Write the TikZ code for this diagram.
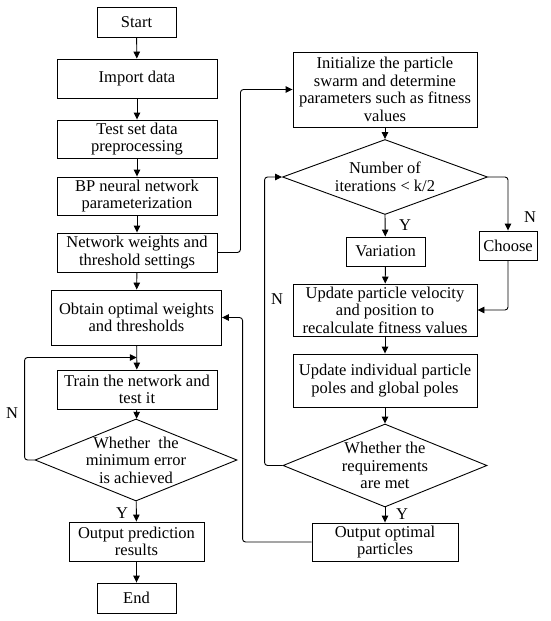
\documentclass[tikz,border=0pt]{standalone}
\usepackage{fontspec}
\setmainfont{Liberation Serif}
\usetikzlibrary{shapes.geometric,arrows.meta,calc}
\begin{document}
\begin{tikzpicture}[x=1pt,y=-1pt,
  every node/.style={font=\fontsize{16.5}{17.6}\selectfont},
  box/.style={draw,line width=0.9pt,rectangle,align=center,inner sep=0pt},
  dia/.style={draw,line width=0.9pt,diamond,inner sep=0pt},
  arr/.style={line width=0.9pt,-{Triangle[length=7pt,width=6.5pt]}},
  ln/.style={line width=0.9pt},
  lbl/.style={inner sep=0pt}]
\useasboundingbox (0,0) rectangle (550,621);
% left column
\node[box,minimum width=79pt,minimum height=30pt] (start) at (136.5,22) {Start};
\node[box,minimum width=160pt,minimum height=39pt] (import) at (137,78.5) {Import data};
\node[box,minimum width=160pt,minimum height=38pt] (test) at (137,139) {Test set data\\preprocessing};
\node[box,minimum width=160pt,minimum height=38pt] (bp) at (137,196) {BP neural network\\parameterization};
\node[box,minimum width=160pt,minimum height=39pt] (net) at (137,252.5) {Network weights and\\threshold settings};
\node[box,minimum width=170pt,minimum height=55pt] (obtain) at (136.5,317.5) {Obtain optimal weights\\and thresholds};
\node[box,minimum width=160pt,minimum height=39pt] (train) at (137,389.5) {Train the network and\\test it};
\node[dia,minimum width=202pt,minimum height=82pt,label={[align=center,lbl]center:Whether\ \ the\\minimum error\\is achieved}] (d1) at (136,460) {};
\node[box,minimum width=135pt,minimum height=39pt] (outpred) at (136.5,541.5) {Output prediction\\results};
\node[box,minimum width=79pt,minimum height=30pt] (end) at (136.5,598) {End};
% right column
\node[box,minimum width=184pt,minimum height=75pt] (init) at (385,89.5) {Initialize the particle\\swarm and determine\\parameters such as fitness\\values};
\node[dia,minimum width=205pt,minimum height=75pt,label={[align=center,lbl]center:Number of\\iterations < k/2}] (d2) at (385,177) {};
\node[box,minimum width=79pt,minimum height=29pt] (var) at (385.5,251.5) {Variation};
\node[box,minimum width=58pt,minimum height=29pt] (choose) at (508,245.5) {Choose};
\node[box,minimum width=184pt,minimum height=52pt] (upd1) at (385,310) {Update particle velocity\\and position to\\recalculate fitness values};
\node[box,minimum width=184pt,minimum height=53pt] (upd2) at (385,380.5) {Update individual particle\\poles and global poles};
\node[dia,minimum width=204pt,minimum height=83pt,label={[align=center,lbl]center:Whether the\\requirements\\are met}] (d3) at (385,465.5) {};
\node[box,minimum width=146pt,minimum height=38pt] (outopt) at (385,542) {Output optimal\\particles};
% labels
\node[lbl] (n1) at (12,413) {N};
\node[lbl] (y1) at (122,513) {Y};
\node[lbl] (y2) at (405,225) {Y};
\node[lbl] (n2) at (530,217) {N};
\node[lbl] (n3) at (277,299) {N};
\node[lbl] (y3) at (402,514) {Y};
\coordinate (jn) at ($(obtain.south)!0.5!(train.north)$);
% connectors left
\draw[arr] (start) -- (import);
\draw[arr] (import) -- (test);
\draw[arr] (test) -- (bp);
\draw[arr] (bp) -- (net);
\draw[arr] (net) -- (obtain);
\draw[arr] (obtain) -- (train);
\draw[arr] (train) -- (d1);
\draw[arr] (d1) -- (outpred);
\draw[arr] (outpred) -- (end);
\draw[arr,rounded corners=3pt] (d1.west) -- ++(-10,0) |- (jn);
% connectors right
\draw[arr,rounded corners=3pt] (net.east) -- ++(23,0) |- (init.west);
\draw[arr] (init) -- (d2);
\draw[arr] (d2.south) -- (var);
\draw[arr,rounded corners=3pt] (d2.east) -| (choose.north);
\draw[arr,rounded corners=3pt] (choose.south) |- (upd1.east);
\draw[arr] (var) -- (upd1);
\draw[arr] (upd1) -- (upd2);
\draw[arr] (upd2) -- (d3);
\draw[arr] (d3.south) -- (outopt);
\draw[arr,rounded corners=3pt] (d3.west) -- ++(-18,0) |- (d2.west);
\draw[arr,rounded corners=3pt] (outopt.west) -- ++(-69,0) |- (obtain.east);
\end{tikzpicture}
\end{document}
